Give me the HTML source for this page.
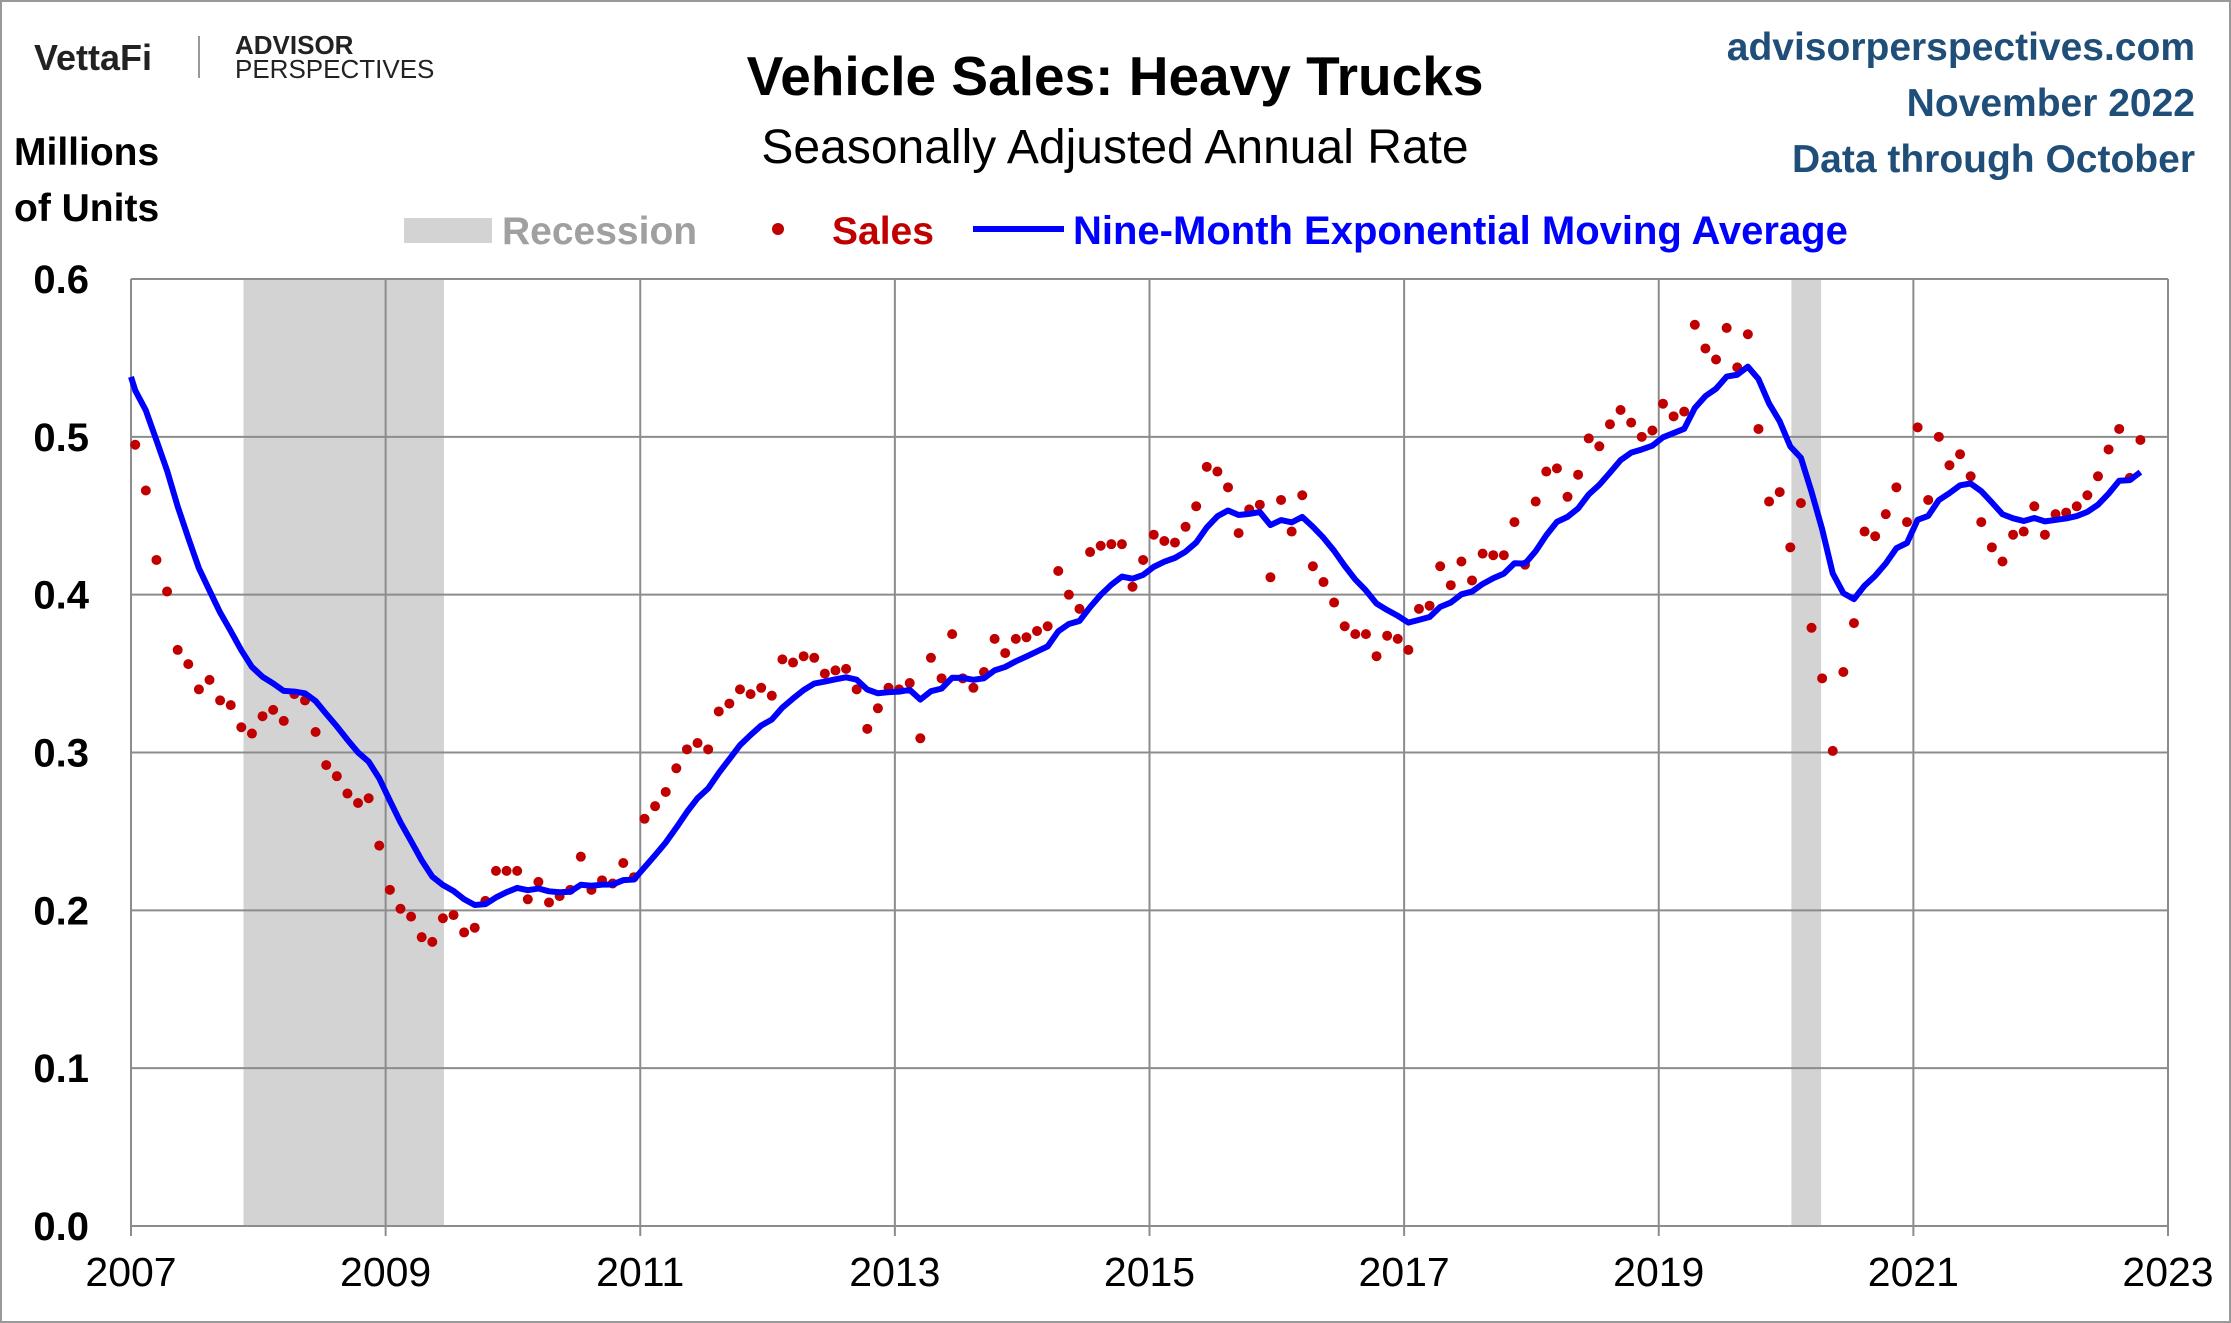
<!DOCTYPE html>
<html><head><meta charset="utf-8">
<style>
html,body{margin:0;padding:0;background:#fff;}
svg{display:block;font-family:"Liberation Sans",sans-serif;}
</style></head>
<body>
<svg id="chart" width="2231" height="1323" viewBox="0 0 2231 1323" xmlns="http://www.w3.org/2000/svg">
<rect x="1" y="1" width="2229" height="1321" fill="#fff" stroke="#999" stroke-width="2"/>
<g>
<text x="34" y="70" font-size="36" font-weight="bold" fill="#222">VettaFi</text>
<line x1="199" y1="36" x2="199" y2="78" stroke="#999" stroke-width="2"/>
<text x="235" y="54" font-size="26" font-weight="bold" fill="#222">ADVISOR</text>
<text x="235" y="78" font-size="26" fill="#222">PERSPECTIVES</text>
</g>
<text x="1115" y="95" font-size="55" font-weight="bold" text-anchor="middle" fill="#000">Vehicle Sales: Heavy Trucks</text>
<text x="1115" y="163" font-size="48" text-anchor="middle" fill="#000">Seasonally Adjusted Annual Rate</text>
<g font-size="39" font-weight="bold" fill="#1f4e79" text-anchor="end">
<text x="2195" y="60">advisorperspectives.com</text>
<text x="2195" y="116">November 2022</text>
<text x="2195" y="172">Data through October</text>
</g>
<text x="14" y="165" font-size="39" font-weight="bold" fill="#000"><tspan x="14">Millions</tspan><tspan x="14" dy="56">of Units</tspan></text>
<g>
<rect x="404" y="218" width="88" height="25" fill="#d3d3d3"/>
<text x="502" y="244" font-size="39" font-weight="bold" fill="#a0a0a0">Recession</text>
<circle cx="778" cy="229" r="6" fill="#c00000"/>
<text x="832" y="244" font-size="39" font-weight="bold" fill="#c00000">Sales</text>
<line x1="973" y1="229" x2="1064" y2="229" stroke="#0000ff" stroke-width="6"/>
<text x="1073" y="244" font-size="40" font-weight="bold" fill="#0000ff">Nine-Month Exponential Moving Average</text>
</g>
<g id="plot"></g>
</svg>
<script>
const sales = [
0.495,0.466,0.422,0.402,0.365,0.356,0.340,0.346,0.333,0.330,0.316,0.312,
0.323,0.327,0.320,0.337,0.333,0.313,0.292,0.285,0.274,0.268,0.271,0.241,
0.213,0.201,0.196,0.183,0.180,0.195,0.197,0.186,0.189,0.206,0.225,0.225,
0.225,0.207,0.218,0.205,0.209,0.213,0.234,0.213,0.219,0.217,0.230,0.221,
0.258,0.266,0.275,0.290,0.302,0.306,0.302,0.326,0.331,0.340,0.337,0.341,
0.336,0.359,0.357,0.361,0.360,0.350,0.352,0.353,0.340,0.315,0.328,0.341,
0.340,0.344,0.309,0.360,0.347,0.375,0.347,0.341,0.351,0.372,0.363,0.372,
0.373,0.377,0.380,0.415,0.400,0.391,0.427,0.431,0.432,0.432,0.405,0.422,
0.438,0.434,0.433,0.443,0.456,0.481,0.478,0.468,0.439,0.454,0.457,0.411,
0.460,0.440,0.463,0.418,0.408,0.395,0.380,0.375,0.375,0.361,0.374,0.372,
0.365,0.391,0.393,0.418,0.406,0.421,0.409,0.426,0.425,0.425,0.446,0.419,
0.459,0.478,0.480,0.462,0.476,0.499,0.494,0.508,0.517,0.509,0.500,0.504,
0.521,0.513,0.516,0.571,0.556,0.549,0.569,0.544,0.565,0.505,0.459,0.465,
0.430,0.458,0.379,0.347,0.301,0.351,0.382,0.440,0.437,0.451,0.468,0.446,
0.506,0.460,0.500,0.482,0.489,0.475,0.446,0.430,0.421,0.438,0.440,0.456,
0.438,0.451,0.452,0.456,0.463,0.475,0.492,0.505,0.474,0.498
];
const startYear = 2007;
const emaSeed = 0.538;
const emaPeriod = 9;
const recessions = [[2007+10.6/12, 2009+5.5/12],[2020+0.5/12, 2020+3.3/12]];
const yTicks = [0,0.1,0.2,0.3,0.4,0.5,0.6];
const yTickLabels = ["0.0","0.1","0.2","0.3","0.4","0.5","0.6"];
const xTicks = [2007,2009,2011,2013,2015,2017,2019,2021,2023];
const xGrid = [2007,2009,2011,2013,2015,2017,2019,2021,2023];

const L=131,R=2168,T=279,B=1226;
const xs = yr => L + (yr-2007)/16*(R-L);
const ys = v => B - v/0.6*(B-T);
const NS="http://www.w3.org/2000/svg";
const plot=document.getElementById('plot');
function mk(tag,attrs,parent){const e=document.createElementNS(NS,tag);for(const k in attrs)e.setAttribute(k,attrs[k]);(parent||plot).appendChild(e);return e;}

recessions.forEach(r=>{
  const e=mk('rect',{x:xs(r[0]),y:T,width:xs(r[1])-xs(r[0]),height:B-T,fill:'#d3d3d3'});
  
  
});
yTicks.forEach((v,i)=>{
  const g=mk('line',{x1:L,x2:R,y1:ys(v),y2:ys(v),stroke:'#8c8c8c','stroke-width':2});
  
  
  const t=mk('text',{x:L-42,y:ys(v)+14,'font-size':40,'font-weight':'bold','text-anchor':'end',fill:'#000'});
  t.textContent=yTickLabels[i];
  
  
});
xGrid.forEach(y=>{
  const g=mk('line',{x1:xs(y),x2:xs(y),y1:T,y2:B+10,stroke:'#8c8c8c','stroke-width':2});
  
  
});
xTicks.forEach(y=>{
  const t=mk('text',{x:xs(y),y:B+60,'font-size':41,'text-anchor':'middle',fill:'#000'});
  t.textContent=String(y);
  
  
});
const off=0.4;
sales.forEach((v,i)=>{
  const c=mk('circle',{cx:xs(startYear+(i+off)/12),cy:ys(v),r:5,fill:'#c00000'});
  
  
});
const a=2/(emaPeriod+1);let e=emaSeed;const pts=[[xs(startYear),ys(emaSeed)]];
sales.forEach((v,i)=>{e=a*v+(1-a)*e;pts.push([xs(startYear+(i+off)/12),ys(e)]);});
const p=mk('polyline',{points:pts.map(q=>q.join(',')).join(' '),fill:'none',stroke:'#0000ff','stroke-width':6,'stroke-linejoin':'round'});


</script>
</body></html>
